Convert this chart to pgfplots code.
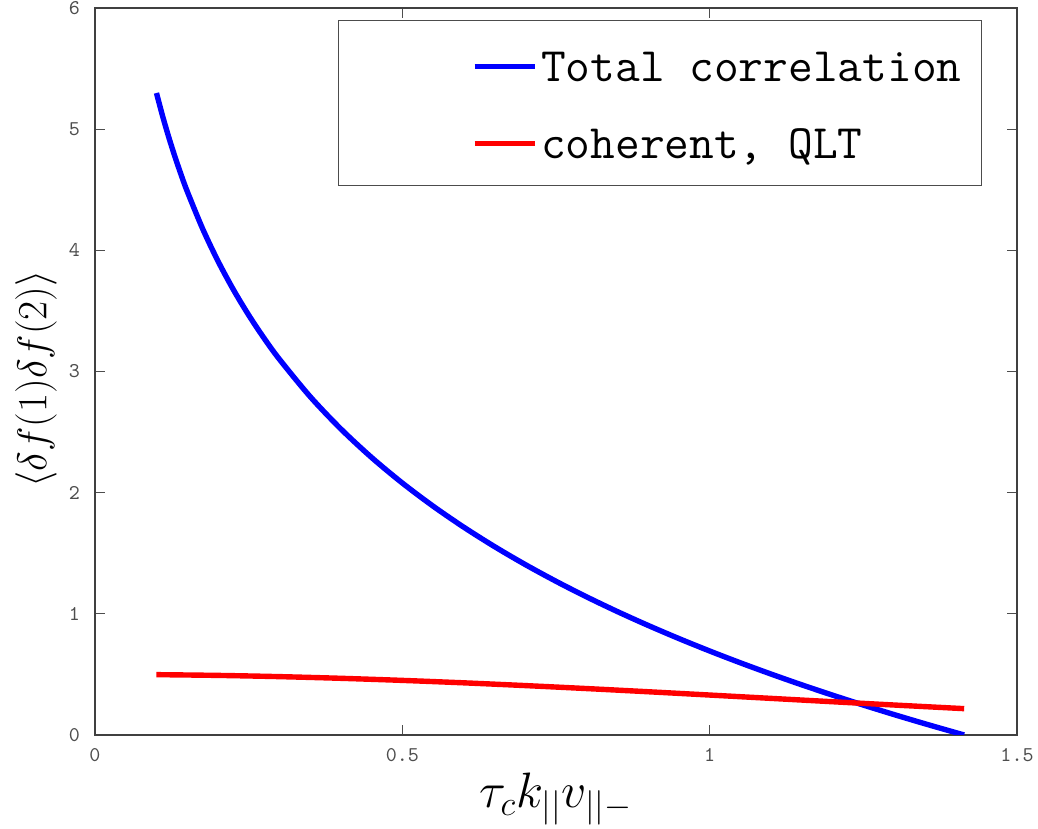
\documentclass[border=0pt]{standalone}
\usepackage{fontspec}
\usepackage{pgfplots}
\pgfplotsset{compat=1.18}
\definecolor{tickgray}{HTML}{4D4D4D}
\definecolor{boxgray}{HTML}{404040}
\begin{document}
\begin{tikzpicture}
\begin{axis}[
    name=ax,
    scale only axis,
    width=461pt,
    height=363.5pt,
    xmin=0, xmax=1.5,
    ymin=0, ymax=6,
    xtick={0,0.5,1,1.5},
    ytick={0,1,2,3,4,5,6},
    tick align=inside,
    major tick length=5pt,
    tick style={draw=tickgray,line width=0.5pt},
    axis line style={draw=boxgray,line width=0.6pt},
    /pgf/number format/assume math mode=true,
    tick label style={font=\fontsize{10.5}{12}\selectfont\ttfamily,text=tickgray},
    xticklabel style={yshift=-3pt},
    yticklabel style={xshift=-4pt},
    xlabel={$\tau_c k_{||} v_{||-}$},
    ylabel={$\langle \delta f(1) \delta f(2) \rangle$},
    xlabel style={font=\fontsize{25}{30}\selectfont,at={(rel axis cs:0.5,0)},anchor=center,yshift=-32pt},
    ylabel style={font=\fontsize{22}{26}\selectfont,at={(rel axis cs:0,0.49)},anchor=center,yshift=29.5pt},
    legend style={
        at={(rel axis cs:0.962,0.9835)},
        anchor=north east,
        draw=black!70,
        line width=0.5pt,
        font=\fontsize{24}{28}\selectfont\ttfamily,
        row sep=16.5pt,
        inner xsep=8pt,
        inner ysep=11pt,
        nodes={inner sep=2pt,text height=17.5pt,text depth=0.5pt},
        cells={anchor=west},
    },
    legend image code/.code={\path (0pt,0pt); \draw[#1,line width=2.6pt] (58.5pt,-1pt) -- (88.5pt,-1pt);},
]
\addplot[blue,line width=2.7pt,smooth] coordinates {
(0.10,5.2983) (0.11,5.1077) (0.12,4.9337) (0.13,4.7735) (0.14,4.6253)
(0.15,4.4873) (0.175,4.1791) (0.20,3.9120) (0.225,3.6765) (0.25,3.4657)
(0.275,3.2751) (0.30,3.1011) (0.35,2.7928) (0.40,2.5257) (0.45,2.2901)
(0.50,2.0794) (0.55,1.8887) (0.60,1.7148) (0.65,1.5547) (0.70,1.4065)
(0.75,1.2685) (0.80,1.1394) (0.85,1.0181) (0.90,0.9039) (0.95,0.7957)
(1.00,0.6931) (1.05,0.5955) (1.10,0.5025) (1.15,0.4135) (1.20,0.3285)
(1.25,0.2469) (1.30,0.1684) (1.35,0.0929) (1.40,0.0201) (1.414,0.0000)
};
\addlegendentry{Total correlation}
\addplot[red,line width=2.7pt,smooth] coordinates {
(0.10,0.4979) (0.20,0.4917) (0.30,0.4816) (0.40,0.4677) (0.50,0.4505)
(0.60,0.4304) (0.70,0.4077) (0.80,0.3830) (0.90,0.3568) (1.00,0.3296)
(1.10,0.3020) (1.20,0.2744) (1.30,0.2473) (1.414,0.2173)
};
\addlegendentry{coherent, QLT}
\end{axis}
\pgfresetboundingbox
\path ([shift={(-47.5pt,-47pt)}]ax.south west) rectangle ([shift={(10.5pt,4pt)}]ax.north east);
\end{tikzpicture}
\end{document}
